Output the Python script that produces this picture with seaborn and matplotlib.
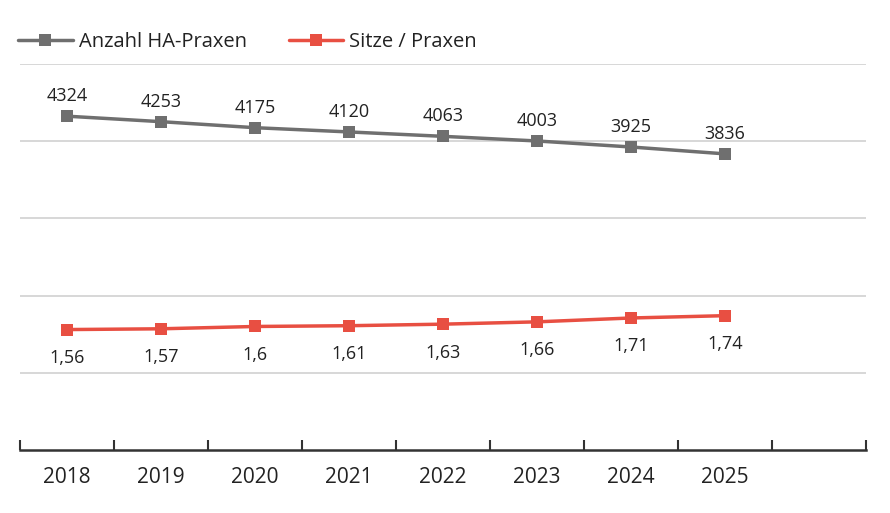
import matplotlib
matplotlib.use("Agg")
import matplotlib.pyplot as plt
import seaborn as sns
import pandas as pd
from matplotlib.lines import Line2D

years = ["2018", "2019", "2020", "2021", "2022", "2023", "2024", "2025"]
praxen = [4324, 4253, 4175, 4120, 4063, 4003, 3925, 3836]
sitze = [1.56, 1.57, 1.60, 1.61, 1.63, 1.66, 1.71, 1.74]
sitze_labels = ["1,56", "1,57", "1,6", "1,61", "1,63", "1,66", "1,71", "1,74"]
series_names = ["Anzahl HA-Praxen", "Sitze / Praxen"]

GRAY = "#6f6f6f"
RED = "#e84f42"

sns.set_style("white")
plt.rcParams["font.family"] = ["Open Sans", "DejaVu Sans"]

df = pd.DataFrame({"x": range(len(years)), "praxen": praxen, "sitze": sitze})

fig = plt.figure(figsize=(8.9, 5.13), dpi=100)
ax = fig.add_axes([20/890, 1-450/513, 846/890, 386/513])
ax2 = ax.twinx()

sns.lineplot(data=df, x="x", y="praxen", ax=ax, color=GRAY, marker="s",
             markersize=8, markeredgewidth=0, linewidth=2.5)
sns.lineplot(data=df, x="x", y="sitze", ax=ax2, color=RED, marker="s",
             markersize=9, markeredgewidth=0, linewidth=2.5)

ax.set_ylim(0, 5000)
ax2.set_ylim(0, 5)
ax.set_xlim(-0.5, 8.5)

ax.set_yticks([1000, 2000, 3000, 4000, 5000])
ax.yaxis.grid(True, color="#d4d4d4", linewidth=1.3)
ax.set_axisbelow(True)
ax.tick_params(axis="y", left=False, labelleft=False)
ax2.tick_params(axis="y", right=False, labelright=False)
ax2.set_yticks([])

for a in (ax, ax2):
    for s in ("top", "left", "right"):
        a.spines[s].set_visible(False)
    a.set_xlabel("")
    a.set_ylabel("")
ax2.spines["bottom"].set_visible(False)
ax.spines["bottom"].set_color("#333333")
ax.spines["bottom"].set_linewidth(1.8)

ax.set_xticks(range(len(years)))
ax.set_xticklabels(years, fontsize=15, color="#222222")
ax.tick_params(axis="x", which="major", bottom=True, length=0, pad=12)
ax.set_xticks([i - 0.5 for i in range(10)], minor=True)
ax.tick_params(axis="x", which="minor", bottom=True, direction="in", length=7,
               width=1.5, color="#333333")

for i, v in enumerate(praxen):
    ax.annotate(str(v), (i, v), xytext=(0, 8), textcoords="offset points",
                ha="center", va="bottom", fontsize=13, color="#222222")
for i, v in enumerate(sitze):
    ax2.annotate(sitze_labels[i], (i, v), xytext=(0, -14), textcoords="offset points",
                 ha="center", va="top", fontsize=13, color="#222222")

handles = [
    Line2D([], [], color=GRAY, marker="s", markersize=8, markeredgewidth=0, linewidth=2.5),
    Line2D([], [], color=RED, marker="s", markersize=9, markeredgewidth=0, linewidth=2.5),
]
fig.legend(handles, series_names, loc="center left", bbox_to_anchor=(0.0, 1 - 42/513),
           ncol=2, frameon=False, fontsize=14.5, handlelength=2.7, columnspacing=2.1,
           handletextpad=0.3, labelcolor="#222222")

fig.savefig("out.png", dpi=100)
